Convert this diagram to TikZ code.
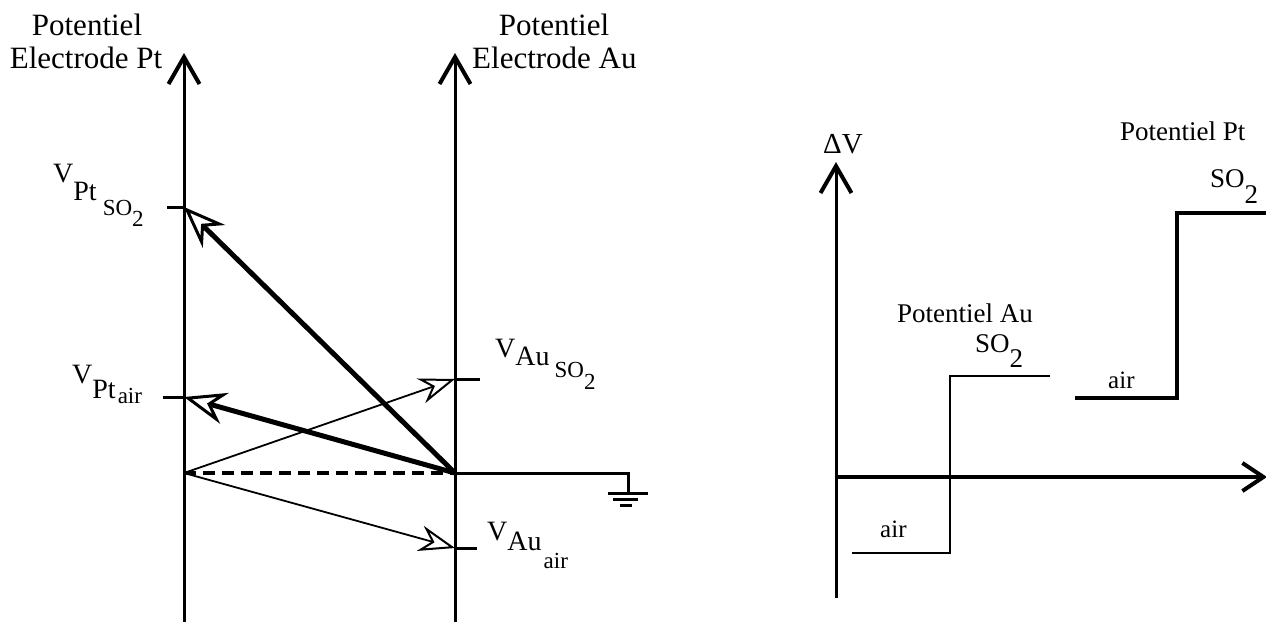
\documentclass[tikz,border=0pt]{standalone}
\usepackage{fontspec}
\setmainfont{Liberation Serif}
\usetikzlibrary{arrows.meta,calc}
\newcommand{\fsz}[1]{\fontsize{#1}{#1}\selectfont}
\begin{document}
\begin{tikzpicture}[x=1pt,y=-1pt,
  axisline/.style={line width=3pt, -{Straight Barb[length=27pt,width=31pt,line width=4pt]}},
  haxis/.style={line width=3.5pt, -{Straight Barb[length=21pt,width=28pt,line width=4pt]}},
  plain/.style={line width=3pt},
  bigarrow/.style={line width=5pt, -{Stealth[open,length=42pt,width=32pt,inset=14pt,line width=3pt]}},
  smallarrow/.style={line width=1.8pt, -{Stealth[open,length=36pt,width=26pt,inset=12pt,line width=2pt]}},
  title/.style={font=\fsz{31}, inner sep=0pt, anchor=base},
  vlab/.style={font=\fsz{28}, inner sep=0pt, anchor=base west},
  rlab/.style={font=\fsz{27}, inner sep=0pt, anchor=base west},
  smalllab/.style={font=\fsz{25}, inner sep=0pt, anchor=base west},
  thinstep/.style={line width=2pt},
  thickstep/.style={line width=3.5pt}]
\useasboundingbox (0,0) rectangle (1266,634);

% ---------- left diagram ----------
\coordinate (ptbot) at (184,622);
\coordinate (pttop) at (184,53);
\coordinate (aubot) at (455,622);
\coordinate (autop) at (455,53);
\coordinate (O1) at (184,473);
\coordinate (O2) at (455,473);
\draw[axisline] (ptbot) -- (pttop);
\draw[axisline] (aubot) -- (autop);

\node[title] (t1a) at (87,36) {Potentiel};
\node[title] (t1b) at (86,68) {Electrode Pt};
\node[title] (t2a) at (554,36) {Potentiel};
\node[title, anchor=base west] (t2b) at (472,68) {Electrode Au};

% ticks
\coordinate (vptso) at (184,207);
\coordinate (vptair) at (184,397);
\coordinate (vauso) at (455,379);
\coordinate (vauair) at (455,548);
\coordinate (tk1) at (167,207);
\coordinate (tk2) at (163,397);
\coordinate (tk3) at (480,379);
\coordinate (tk4) at (477,548);
\draw[plain] (vptso) -- (tk1);
\draw[plain] (vptair) -- (tk2);
\draw[plain] (vauso) -- (tk3);
\draw[plain] (vauair) -- (tk4);

% labels
\node[vlab] (l1) at (53,182) {V\raisebox{-18pt}{Pt}\hspace{6pt}\raisebox{-33pt}{\fsz{23}SO\raisebox{-11pt}{2}}};
\node[vlab] (l2) at (72,383) {V\raisebox{-15pt}{Pt}\hspace{2pt}\raisebox{-20pt}{\fsz{23}air}};
\node[vlab] (l3) at (495,357) {V\raisebox{-8pt}{Au}\hspace{5pt}\raisebox{-20pt}{\fsz{23}SO\raisebox{-12pt}{2}}};
\node[vlab] (l4) at (487,540) {V\raisebox{-10pt}{Au}\hspace{2pt}\raisebox{-28pt}{\fsz{23}air}};

% dashed baseline and ground
\draw[line width=4pt, dash pattern=on 12pt off 7pt] (O1) -- (O2);
\coordinate (g1) at (628,473);
\coordinate (g2) at (628,493);
\draw[plain] (O2) -- (g1) -- (g2);
\draw[plain] ($(g2)+(-20,0)$) -- ($(g2)+(20,0)$);
\draw[plain] ($(g2)+(-15,6)$) -- ($(g2)+(10,6)$);
\draw[plain] ($(g2)+(-8,12)$) -- ($(g2)+(4,12)$);

% vectors
\draw[bigarrow] (O2) -- (vptso);
\draw[bigarrow] (O2) -- (vptair);
\draw[smallarrow] (O1) -- (vauso);
\draw[smallarrow] (O1) -- (vauair);

% ---------- right diagram ----------
\coordinate (dvbot) at (836,598);
\coordinate (dvtop) at (836,162);
\coordinate (hx0) at (836,477);
\coordinate (hx1) at (1267,477);
\draw[axisline] (dvbot) -- (dvtop);
\draw[haxis] (hx0) -- (hx1);
\node[font=\fsz{29}, inner sep=0pt, anchor=base west] (dv) at (823,153) {ΔV};

% Au step
\coordinate (a1) at (852,553);
\coordinate (a2) at (950,553);
\coordinate (a3) at (950,376);
\coordinate (a4) at (1050,376);
\draw[thinstep] (a1) -- (a2) -- (a3) -- (a4);
% Pt step
\coordinate (p1) at (1075,398);
\coordinate (p2) at (1177,398);
\coordinate (p3) at (1177,213);
\coordinate (p4) at (1266,213);
\draw[thickstep] (p1) -- (p2) -- (p3) -- (p4);

\node[rlab] (pa) at (897,322) {Potentiel Au};
\node[rlab] (pas) at (975,352) {SO\raisebox{-15pt}{2}};
\node[smalllab] (aira) at (880,537) {air};
\node[rlab] (pp) at (1120,140) {Potentiel Pt};
\node[rlab] (pps) at (1210,187) {SO\raisebox{-16pt}{2}};
\node[smalllab] (airp) at (1108,388) {air};
\end{tikzpicture}
\end{document}
